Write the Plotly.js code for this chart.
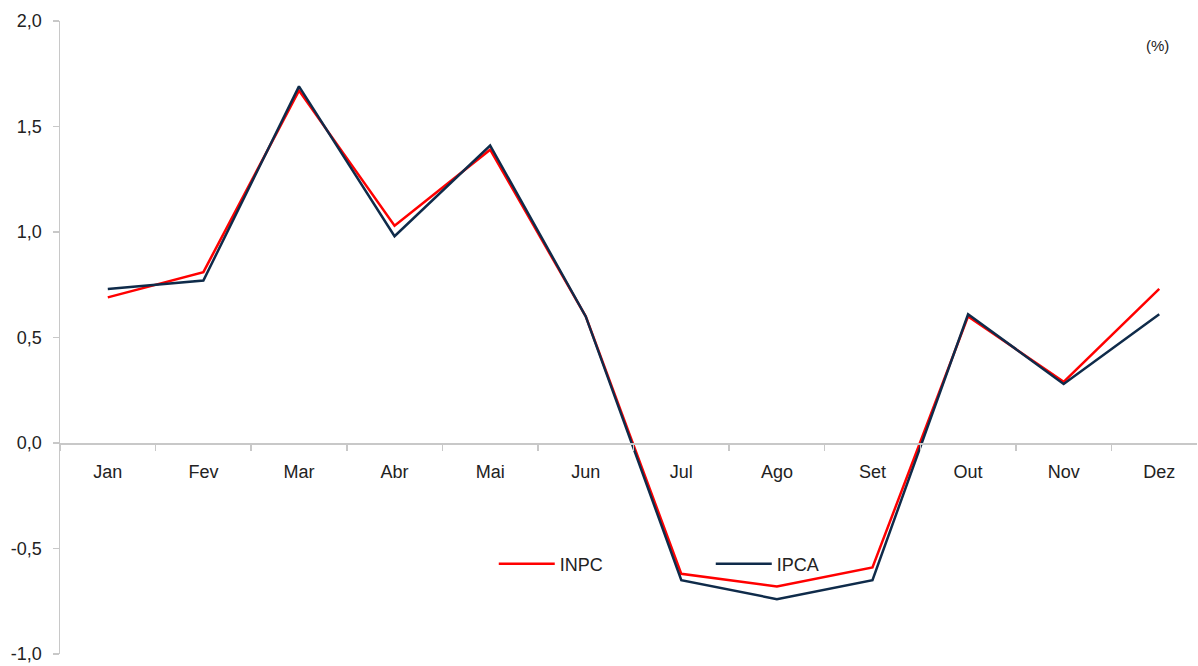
<!DOCTYPE html>
<html>
<head>
<meta charset="utf-8">
<script src="https://cdn.plot.ly/plotly-3.0.1.min.js"></script>
<style>html,body{margin:0;padding:0;background:#fff;}#chart{width:1198px;height:666px;}</style>
</head>
<body>
<div id="chart"></div>
<script>
const months = ["Jan","Fev","Mar","Abr","Mai","Jun","Jul","Ago","Set","Out","Nov","Dez"];
const inpc = [0.69, 0.81, 1.67, 1.03, 1.39, 0.60, -0.62, -0.68, -0.59, 0.60, 0.29, 0.73];
const ipca = [0.73, 0.77, 1.69, 0.98, 1.41, 0.60, -0.65, -0.74, -0.65, 0.61, 0.28, 0.61];
const yTickVals = [-1, -0.5, 0, 0.5, 1, 1.5, 2];
const yTickText = ["-1,0", "-0,5", "0,0", "0,5", "1,0", "1,5", "2,0"];
const yMin = -1, yMax = 2;

const traces = [
  {x: months, y: inpc, name: "INPC", type: "scatter", mode: "lines",
   line: {color: "#ff0000", width: 2.5}},
  {x: months, y: ipca, name: "IPCA", type: "scatter", mode: "lines",
   line: {color: "#0f2b4a", width: 2.5}}
];

const layout = {
  width: 1198, height: 666,
  margin: {l: 60, r: 1, t: 21, b: 12},
  paper_bgcolor: "#fff", plot_bgcolor: "#fff",
  separators: ",.",
  font: {family: "Liberation Sans, Arial, sans-serif", size: 18, color: "#222"},
  showlegend: true,
  legend: {orientation: "h", x: 0.3815, xanchor: "left", y: 0.142, yanchor: "middle",
           itemwidth: 56, entrywidth: 146, entrywidthmode: "pixels",
           font: {size: 18, color: "#222"}, bgcolor: "rgba(0,0,0,0)"},
  xaxis: {type: "category", range: [-0.5, 11.395], anchor: "free", position: (0 - yMin) / (yMax - yMin),
          showline: true, linecolor: "#c8c8c8", linewidth: 1.5,
          ticks: "outside", tickson: "boundaries", ticklen: 6, tickcolor: "#c8c8c8", tickwidth: 1.5,
          showgrid: false, zeroline: false, tickfont: {size: 18, color: "#222"}, ticklabelstandoff: 12},
  yaxis: {range: [yMin, yMax], tickmode: "array", tickvals: yTickVals, ticktext: yTickText,
          showline: true, linecolor: "#c8c8c8", linewidth: 1.5,
          ticks: "outside", ticklen: 6, tickcolor: "#c8c8c8", tickwidth: 1.5, ticklabelstandoff: 7,
          showgrid: false, zeroline: false, tickfont: {size: 18, color: "#222"}},
  annotations: [{text: "(%)", xref: "paper", yref: "paper", x: 0.965, y: 0.962,
                 xanchor: "center", yanchor: "middle",
                 showarrow: false, font: {size: 15, color: "#222"}}]
};

Plotly.newPlot("chart", traces, layout, {displayModeBar: false, staticPlot: true});
</script>
</body>
</html>
